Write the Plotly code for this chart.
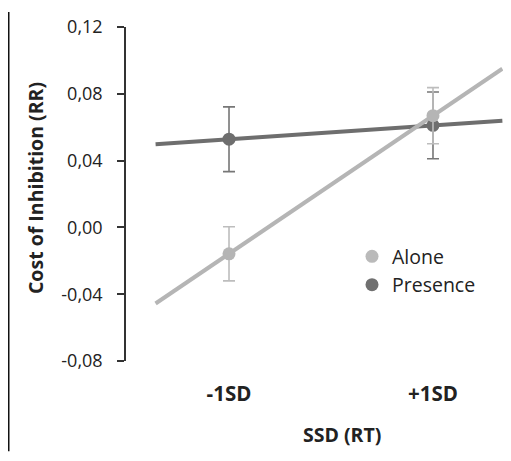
import plotly.graph_objects as go

# ---- data ----
categories = ["-1SD", "+1SD"]
cat_pos = [0, 1]
alone = [-0.0158, 0.0669]
alone_err = [0.0162, 0.0168]
presence = [0.0528, 0.0611]
presence_err = [0.0194, 0.0200]
y_ticks = [-0.08, -0.04, 0.00, 0.04, 0.08, 0.12]
y_tick_labels = ["-0,08", "-0,04", "0,00", "0,04", "0,08", "0,12"]
trend_x = [-0.36, 1.34]  # extent of fitted lines in category units

ALONE_C = "#b5b5b5"
PRES_C = "#6e6e6e"
FONT = "Open Sans"


def extend(vals, xs):
    slope = (vals[1] - vals[0]) / (cat_pos[1] - cat_pos[0])
    return [vals[0] + slope * (x - cat_pos[0]) for x in xs]


fig = go.Figure()

fig.add_trace(go.Scatter(x=trend_x, y=extend(presence, trend_x), mode="lines",
                         line=dict(color=PRES_C, width=4), showlegend=False, hoverinfo="skip"))
fig.add_trace(go.Scatter(x=trend_x, y=extend(alone, trend_x), mode="lines",
                         line=dict(color=ALONE_C, width=4), showlegend=False, hoverinfo="skip"))

fig.add_trace(go.Scatter(x=cat_pos, y=presence, mode="markers",
                         marker=dict(color=PRES_C, size=13),
                         error_y=dict(type="data", array=presence_err, color="#777777",
                                      thickness=1.6, width=6),
                         showlegend=False))
fig.add_trace(go.Scatter(x=cat_pos, y=alone, mode="markers",
                         marker=dict(color=ALONE_C, size=13),
                         error_y=dict(type="data", array=alone_err, color="#bdbdbd",
                                      thickness=1.6, width=6),
                         showlegend=False))

fig.add_trace(go.Scatter(x=[None], y=[None], mode="markers", name="Alone",
                         marker=dict(color="#bababa", size=13), legendgroup="a"))
fig.add_trace(go.Scatter(x=[None], y=[None], mode="markers", name="Presence",
                         marker=dict(color="#707070", size=13), legendgroup="p"))

# page body has an 8px margin: work in reference pixels, shifted by OFF
OFF = 8
W, H = 511 - OFF, 461 - 2 * OFF
L = 126 - OFF
T = 24 - OFF
B = H - (361 - OFF)
R = W - (505 - OFF)
pw, ph = W - L - R, H - T - B


def px(x):
    return (x - OFF - L) / pw


def py(y):
    return (H - B - (y - OFF)) / ph


fig.update_layout(
    width=W, height=H,
    margin=dict(l=L, r=R, t=T, b=B, pad=0),
    paper_bgcolor="white", plot_bgcolor="white",
    font=dict(family=FONT, size=18, color="#222222"),
    showlegend=True,
    legend=dict(x=px(352), y=py(236), xanchor="left", yanchor="top",
                font=dict(family=FONT, size=19.5, color="#222222"),
                bgcolor="rgba(0,0,0,0)", itemwidth=30, tracegroupgap=8,
                traceorder="normal"),
    xaxis=dict(range=[-0.505, 1.353], tickvals=cat_pos, ticktext=categories,
               showgrid=False, zeroline=False, showline=False, ticks="",
               tickfont=dict(family=FONT, size=20.5, color="#222222", weight="bold"),
               ticklabelstandoff=18, fixedrange=True),
    yaxis=dict(range=[-0.08, 0.12], tickvals=y_ticks, ticktext=y_tick_labels,
               showgrid=False, zeroline=False, showline=True, linecolor="#333333",
               linewidth=1.5, ticks="outside", ticklen=7, tickwidth=1.5,
               tickcolor="#333333",
               tickfont=dict(family=FONT, size=18, color="#222222"),
               ticklabelstandoff=11, fixedrange=True),
    annotations=[
        dict(text="<b>SSD (RT)</b>", x=px(342), y=py(435), xref="paper", yref="paper",
             showarrow=False, font=dict(family=FONT, size=19.5, color="#222222"),
             xanchor="center", yanchor="middle"),
        dict(text="<b>Cost of Inhibition (RR)</b>", x=px(35), y=py(186.5), xref="paper",
             yref="paper", showarrow=False, textangle=-90,
             font=dict(family=FONT, size=19.5, color="#222222"),
             xanchor="center", yanchor="middle"),
    ],
    shapes=[
        dict(type="line", xref="paper", yref="paper", x0=px(8.75), x1=px(8.75),
             y0=py(8.75), y1=py(OFF + H - 1), line=dict(color="#111111", width=1.5)),
    ],
)

fig.write_html("out.html")
